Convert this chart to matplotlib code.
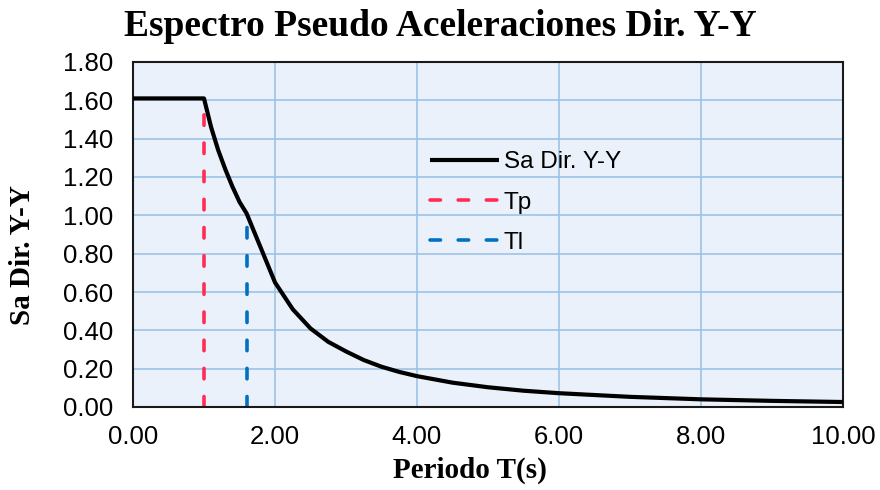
import matplotlib
matplotlib.use("Agg")
import matplotlib.pyplot as plt

# Data
T = [0.0, 0.5, 1.0, 1.1, 1.2, 1.3, 1.4, 1.5, 1.6, 2.0, 2.25, 2.5, 2.75, 3.0,
     3.25, 3.5, 3.75, 4.0, 4.5, 5.0, 5.5, 6.0, 7.0, 8.0, 9.0, 10.0]
Sa = [1.61, 1.61, 1.61, 1.46, 1.34, 1.24, 1.15, 1.07, 1.01, 0.65, 0.51, 0.41,
      0.34, 0.29, 0.245, 0.21, 0.183, 0.161, 0.127, 0.103, 0.085, 0.072,
      0.053, 0.040, 0.032, 0.026]
Tp_x = [1.0, 1.0]
Tp_y = [0.0, 1.61]
Tl_x = [1.6, 1.6]
Tl_y = [0.0, 1.01]
xticks = [0, 2, 4, 6, 8, 10]
yticks = [0.0, 0.2, 0.4, 0.6, 0.8, 1.0, 1.2, 1.4, 1.6, 1.8]

fig = plt.figure(figsize=(8.8, 4.9), dpi=100)
ax = fig.add_axes([133/880, 1-407/490, (843-133)/880, (407-62)/490])
ax.set_facecolor("#EAF1FA")

dash = (0, (2.9, 4.9))
ax.plot(T, Sa, color="black", lw=3, label="Sa Dir. Y-Y", zorder=3,
        solid_joinstyle="round", solid_capstyle="butt")
ax.plot(Tp_x, Tp_y, color="#FF2D55", lw=2.6, ls=dash,
        dash_capstyle="round", label="Tp", zorder=2)
ax.plot(Tl_x, Tl_y, color="#0070C0", lw=2.6, ls=dash,
        dash_capstyle="round", label="Tl", zorder=2)

ax.set_xlim(0, 10)
ax.set_ylim(0, 1.8)
ax.set_xticks(xticks)
ax.set_xticklabels([f"{v:.2f}" for v in xticks])
ax.set_yticks(yticks)
ax.set_yticklabels([f"{v:.2f}" for v in yticks])
ax.grid(True, color="#9DC3E6", lw=1.2, zorder=0)
ax.set_axisbelow(True)
ax.tick_params(axis="y", length=0, labelsize=18.5, pad=14)
ax.tick_params(axis="x", length=0, labelsize=18.5, pad=13)
for lab in ax.get_xticklabels() + ax.get_yticklabels():
    lab.set_family("Liberation Sans")
for s in ax.spines.values():
    s.set_color("#1a1a1a")
    s.set_linewidth(1.5)

fig.text(470/880, 1-470/490, "Periodo T(s)", family="Liberation Serif",
         fontweight="bold", fontsize=21, ha="center", va="center")
fig.text(22/880, 1-255/490, "Sa Dir. Y-Y", family="Liberation Serif",
         fontweight="bold", fontsize=21, ha="center", va="center", rotation=90)
fig.text(440/880, 1-27/490, "Espectro Pseudo Aceleraciones Dir. Y-Y",
         family="Liberation Serif", fontweight="bold", fontsize=27,
         ha="center", va="center")

leg = ax.legend(loc="upper left", bbox_to_anchor=(0.418, 0.741), frameon=False,
                prop={"family": "Liberation Sans", "size": 17.5},
                handlelength=2.85, handletextpad=0.2, labelspacing=0.75,
                borderpad=0, borderaxespad=0)

fig.savefig("out.png", dpi=100)
